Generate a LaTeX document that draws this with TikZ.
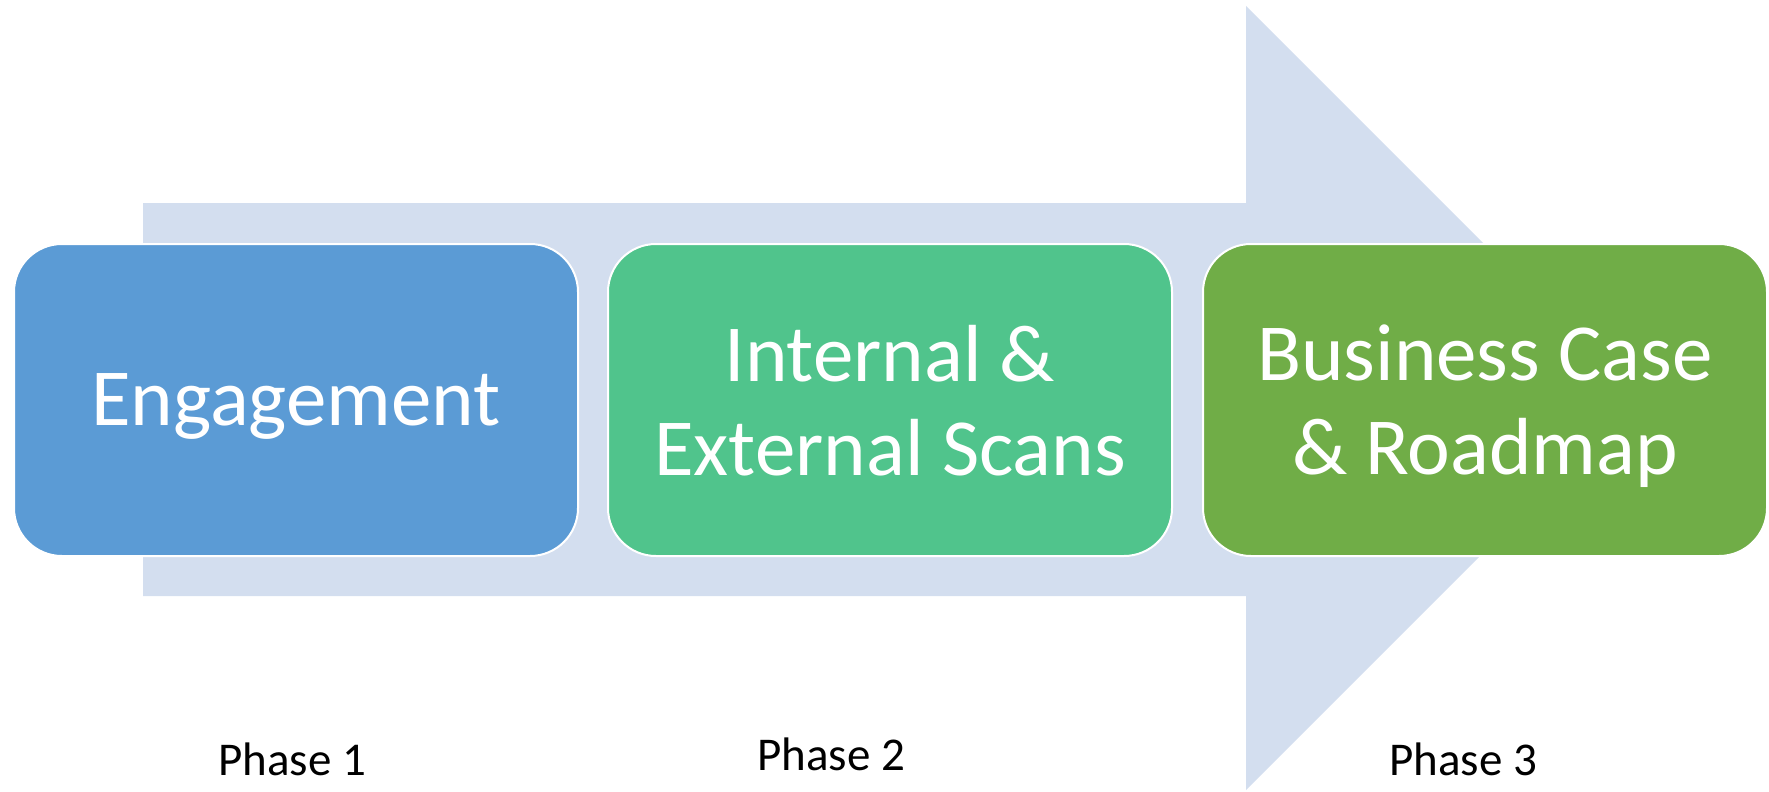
\documentclass[tikz,border=0pt]{standalone}
\usepackage{fontspec}
\setmainfont{Carlito}
\definecolor{arrowfill}{HTML}{D3DEEF}
\definecolor{cblue}{HTML}{5B9BD5}
\definecolor{cgreen}{HTML}{50C48C}
\definecolor{cdgreen}{HTML}{70AD47}
\begin{document}
\begin{tikzpicture}[x=1pt,y=-1pt,
  phasebox/.style={draw=white,line width=2pt,rounded corners=48pt,
    minimum width=564pt,minimum height=312pt,inner sep=0pt,
    text=white,align=center,text depth=0pt,
    font=\fontsize{81}{94}\selectfont},
  phaselabel/.style={font=\fontsize{47}{56}\selectfont,text=black,anchor=base}]
\useasboundingbox (0,0) rectangle (1769,792);
% big background arrow
\fill[arrowfill] (143,203) -- (1246,203) -- (1246,6) -- (1638,398)
  -- (1246,790) -- (1246,596) -- (143,596) -- cycle;
% boxes
\node[phasebox,fill=cblue] (b1) at (296,400) {Engagement};
\node[phasebox,fill=cgreen] (b2) at (890,400) {Internal \&\\External Scans};
\node[phasebox,fill=cdgreen] (b3) at (1485,400) {Business Case\\\& Roadmap};
% phase labels
\node[phaselabel] (p1) at (292,775) {Phase 1};
\node[phaselabel] (p2) at (831,770) {Phase 2};
\node[phaselabel] (p3) at (1463,775) {Phase 3};
\end{tikzpicture}
\end{document}
